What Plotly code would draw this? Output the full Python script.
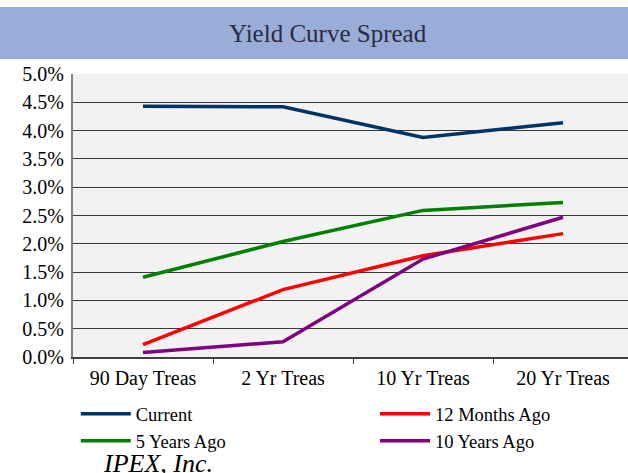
import plotly.graph_objects as go

categories = ["90 Day Treas", "2 Yr Treas", "10 Yr Treas", "20 Yr Treas"]
current = [0.0443, 0.0442, 0.0388, 0.0414]
months_12 = [0.0022, 0.0119, 0.0179, 0.0218]
years_5 = [0.0141, 0.0204, 0.0259, 0.0273]
years_10 = [0.0008, 0.0027, 0.0173, 0.0247]
series_names = ["Current", "12 Months Ago", "5 Years Ago", "10 Years Ago"]
series_colors = ["#003366", "#FF0000", "#008000", "#800080"]
series_values = [current, months_12, years_5, years_10]
series_legend = ["legend", "legend2", "legend", "legend2"]

FONT = "Liberation Serif"

fig = go.Figure()
for name, vals, col, lg in zip(series_names, series_values, series_colors, series_legend):
    fig.add_trace(go.Scatter(x=categories, y=vals, mode="lines", name=name, legend=lg,
                             line=dict(color=col, width=3.5)))

L, T, W, H = 73, 74, 555, 283
leg_common = dict(orientation="v", yanchor="top", xanchor="left", traceorder="normal",
                  font=dict(family=FONT, size=18.5, color="black"),
                  bgcolor="rgba(0,0,0,0)", tracegroupgap=0, itemwidth=50)
fig.update_layout(
    width=628, height=473,
    margin=dict(l=L, r=628 - L - W, t=T, b=473 - T - H, pad=0, autoexpand=False),
    paper_bgcolor="white", plot_bgcolor="#F2F2F2",
    font=dict(family=FONT, size=20, color="black"),
    showlegend=True,
    legend=dict(x=0.005, y=-0.135, **leg_common),
    legend2=dict(x=(375 - L) / W, y=-0.135, **leg_common),
    xaxis=dict(type="category", range=[-0.5, -0.5 + W / 140], showgrid=False,
               tickson="boundaries", ticks="outside", ticklen=5, tickcolor="#404040",
               showline=True, linecolor="#404040", linewidth=2, ticklabelstandoff=2,
               tickfont=dict(family=FONT, size=20, color="black"), fixedrange=True),
    yaxis=dict(range=[0, 0.05], dtick=0.005, tickformat=".1%", showgrid=True,
               gridcolor="#383838", gridwidth=1.2, showline=True, linecolor="#808080",
               linewidth=2, ticks="", ticklabelstandoff=3,
               tickfont=dict(family=FONT, size=20, color="black"), zeroline=False),
    shapes=[dict(type="rect", xref="paper", yref="paper",
                 x0=-L / W - 0.01, x1=1.01, y0=(H + T - 59) / H, y1=(H + T - 7) / H,
                 fillcolor="#9AADD9", line=dict(width=0), layer="above")],
    annotations=[
        dict(text="Yield Curve Spread", xref="paper", yref="paper",
             x=(328 - L) / W, y=(H + T - 33) / H, yanchor="middle", showarrow=False,
             font=dict(family=FONT, size=25, color="#2A2A40")),
        dict(text="<i>IPEX, Inc.</i>", xref="paper", yref="paper",
             x=(101 - L) / W, y=(H + T - 463) / H, xanchor="left", yanchor="middle",
             showarrow=False, font=dict(family=FONT, size=26, color="black")),
    ],
)

fig.write_html("out.html", post_script="document.body.style.margin='0';",
               config={"displayModeBar": False})
